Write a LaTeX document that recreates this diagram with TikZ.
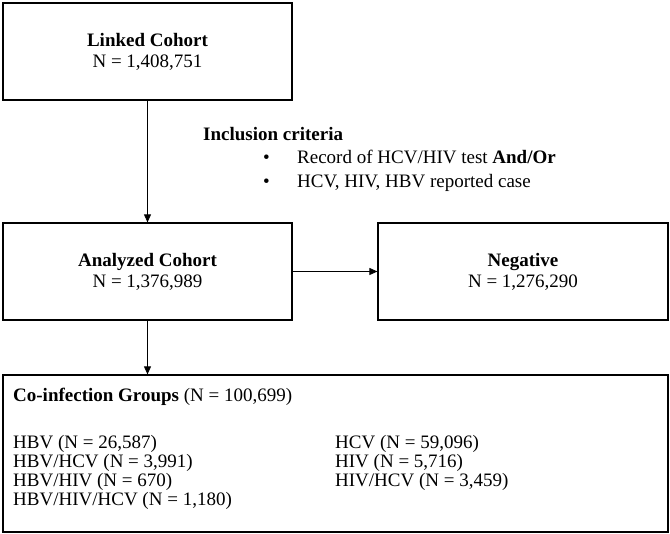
\documentclass[tikz,border=0pt]{standalone}
\usepackage{fontspec}
\setmainfont{Liberation Serif}
\usetikzlibrary{arrows.meta}

\begin{document}
\begin{tikzpicture}[x=1pt,y=-1pt,
  font=\fontsize{19}{21}\selectfont,
  box/.style={draw, line width=1.2pt, minimum width=289pt, minimum height=97pt, inner sep=0pt, align=center},
  arr/.style={-{Triangle[length=8pt,width=7pt]}, line width=0.8pt},
  txt/.style={anchor=base west, inner sep=0pt}]
\useasboundingbox (0,0) rectangle (670,534);

\node [box] (linked) at (147.5, 51.5) {\textbf{Linked Cohort}\\N = 1,408,751};
\node [box] (analyzed) at (147.5, 271.5) {\textbf{Analyzed Cohort}\\N = 1,376,989};
\node [box, minimum width=290pt] (negative) at (523, 271.5) {\textbf{Negative}\\N = 1,276,290};
\node [box, minimum width=665pt, minimum height=157pt] (groups) at (335.5, 453.5) {};

\draw [arr] (linked) -- (analyzed);
\draw [arr] (analyzed) -- (negative);
\draw [arr] (analyzed) -- (analyzed |- groups.north);

% inclusion criteria
\node [txt] (incl) at (203, 141) {\textbf{Inclusion criteria}};
\node [txt] (inclA) at (263, 164) {\makebox[34pt][l]{\textbullet}Record of HCV/HIV test \textbf{And/Or}};
\node [txt] (inclB) at (263, 188) {\makebox[34pt][l]{\textbullet}HCV, HIV, HBV reported case};

% co-infection groups
\node [txt] (title) at (13, 402) {\textbf{Co-infection Groups} (N = 100,699)};
\node [txt] (hbv) at (13, 449) {HBV (N = 26,587)};
\node [txt] (hbvhcv) at (13, 468) {HBV/HCV (N = 3,991)};
\node [txt] (hbvhiv) at (13, 487) {HBV/HIV (N = 670)};
\node [txt] (hbvhivhcv) at (13, 506) {HBV/HIV/HCV (N = 1,180)};
\node [txt] (hcv) at (335, 449) {HCV (N = 59,096)};
\node [txt] (hiv) at (335, 468) {HIV (N = 5,716)};
\node [txt] (hivhcv) at (335, 487) {HIV/HCV (N = 3,459)};
\end{tikzpicture}
\end{document}
